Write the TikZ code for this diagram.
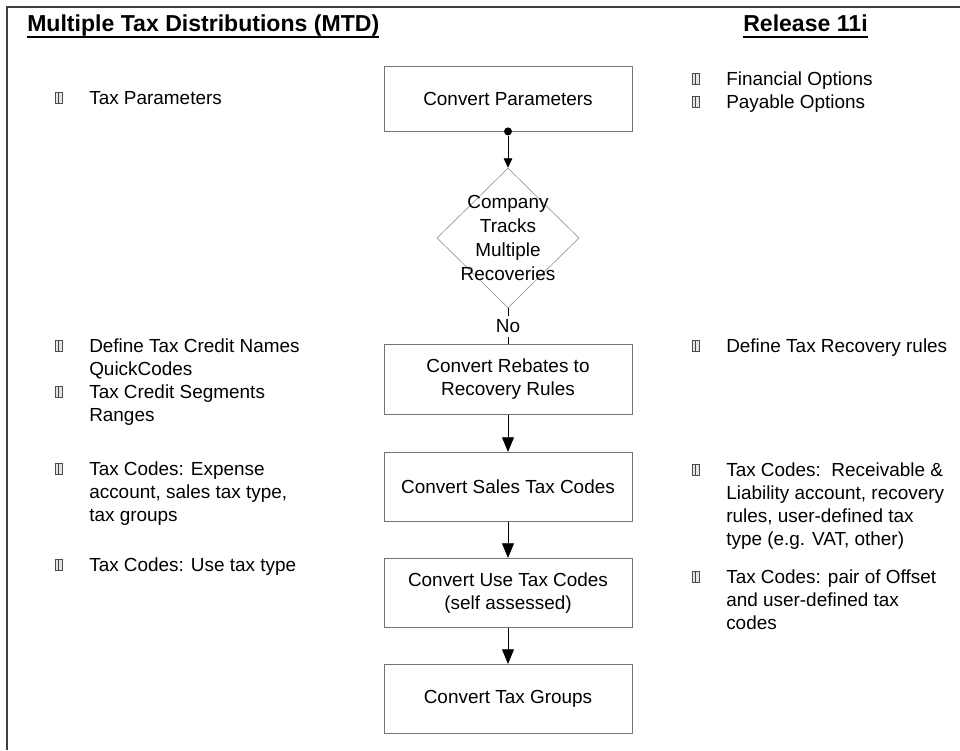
\documentclass[tikz,border=0pt]{standalone}
\usepackage{fontspec}
\setmainfont{Liberation Sans}
\usetikzlibrary{shapes.geometric,arrows.meta}
\newcommand\bodyfont{\fontsize{14.2pt}{17.25pt}\selectfont}
\newcommand\headfont{\fontsize{17.3pt}{20pt}\selectfont\bfseries}
\newcommand\itemlines[1]{\begin{tabular}[t]{@{}l@{}}#1\end{tabular}}
\begin{document}
\begin{tikzpicture}[x=0.75pt,y=-0.75pt,
  stepbox/.style={draw=black!55, line width=0.6pt, minimum width=186pt, minimum height=52pt, inner sep=0pt, align=center, font=\bodyfont},
  decision/.style={diamond, draw=black!40, line width=0.5pt, minimum width=106.5pt, minimum height=105pt, inner sep=0pt},
  txt/.style={anchor=base west, inner sep=0pt, font=\bodyfont},
  head/.style={anchor=base west, inner sep=0pt, font=\headfont},
  uline/.style={line width=1.4pt, black},
  bul/.style={anchor=south west, draw=black!70, fill=black!10, line width=0.5pt, minimum width=5pt, minimum height=8.5pt, inner sep=0pt,
    path picture={\draw[black!75, line width=0.5pt] ([xshift=1.9pt]path picture bounding box.south west) -- ([xshift=1.9pt]path picture bounding box.north west);}},
  flow/.style={draw=black, line width=0.6pt, -{Triangle[length=11pt,width=9pt]}},
  flowsmall/.style={draw=black, line width=0.6pt, -{Triangle[length=7pt,width=6.5pt]}},
  plain/.style={draw=black, line width=0.6pt},
  frame/.style={draw=black!75, line width=1.6pt}
]
\useasboundingbox (0,0) rectangle (960,750);
\draw[frame] (7,750) -- (7,7) -- (960,7);

% headings
\node[head] (title) at (27,31) {Multiple Tax Distributions (MTD)};
\draw[uline] ([yshift=-4.2pt]title.base west) -- ([yshift=-4.2pt]title.base east);
\node[head] (rel) at (743,31) {Release 11i};
\draw[uline] ([yshift=-4.2pt]rel.base west) -- ([yshift=-4.2pt]rel.base east);

% flow boxes
\node[stepbox, minimum height=48.75pt] (params) at (508,98.5) {Convert Parameters};
\node[decision] (dec) at (508,238) {};
\node[font={\fontsize{14.2pt}{18pt}\selectfont}, align=center, inner sep=0pt] (dectext) at (dec.center) {Company\\Tracks\\Multiple\\Recoveries};
\node[stepbox] (rebates) at (508,379.5) {Convert Rebates to\\Recovery Rules};
\node[stepbox] (sales) at (508,487) {Convert Sales Tax Codes};
\node[stepbox] (use) at (508,593) {Convert Use Tax Codes\\(self assessed)};
\node[stepbox] (groups) at (508,699) {Convert Tax Groups};

% connectors
\node[circle, fill=black, inner sep=0pt, minimum size=6pt] (dot) at (params.south) {};
\draw[flowsmall] (dot) -- (dec.north);
\draw[plain] (dec.south) -- node[fill=white, font=\bodyfont, inner sep=3pt] (no) {No} (rebates.north);
\draw[flow] (rebates.south) -- (sales.north);
\draw[flow] (sales.south) -- (use.north);
\draw[flow] (use.south) -- (groups.north);

% left column
\node[bul] (bl1) at (55,104) {};
\node[txt] (tl1) at (89,104) {Tax Parameters};
\node[bul] (bl2) at (55,352) {};
\node[txt] (tl2) at (89,352) {\itemlines{Define Tax Credit Names\\QuickCodes}};
\node[bul] (bl3) at (55,398) {};
\node[txt] (tl3) at (89,398) {\itemlines{Tax Credit Segments\\Ranges}};
\node[bul] (bl4) at (55,475) {};
\node[txt] (tl4) at (89,475) {\itemlines{Tax Codes: Expense\\account, sales tax type,\\tax groups}};
\node[bul] (bl5) at (55,571) {};
\node[txt] (tl5) at (89,571) {Tax Codes: Use tax type};

% right column
\node[bul] (br1) at (692,85) {};
\node[txt] (tr1) at (726,85) {Financial Options};
\node[bul] (br2) at (692,108) {};
\node[txt] (tr2) at (726,108) {Payable Options};
\node[bul] (br3) at (692,352) {};
\node[txt] (tr3) at (726,352) {Define Tax Recovery rules};
\node[bul] (br4) at (692,476) {};
\node[txt] (tr4) at (726,476) {\itemlines{Tax Codes:\ \ Receivable \&\\Liability account, recovery\\rules, user-defined tax\\type (e.g. VAT, other)}};
\node[bul] (br5) at (692,583) {};
\node[txt] (tr5) at (726,583) {\itemlines{Tax Codes: pair of Offset\\and user-defined tax\\codes}};
\end{tikzpicture}
\end{document}
